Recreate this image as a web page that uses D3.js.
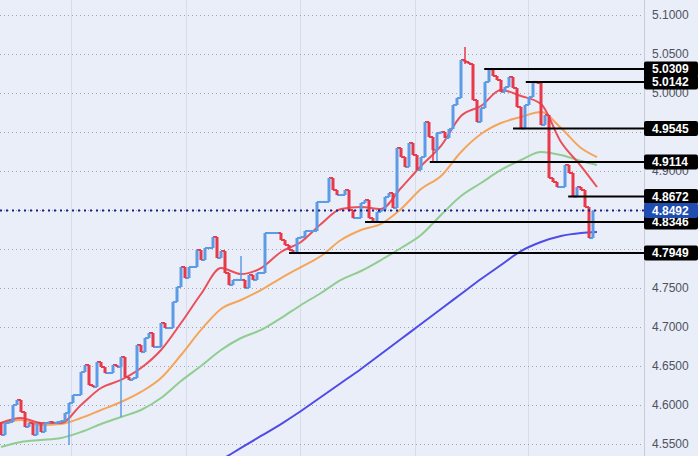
<!DOCTYPE html>
<html><head><meta charset="utf-8">
<script src="https://cdn.jsdelivr.net/npm/d3@7"></script>
<style>html,body{margin:0;padding:0;background:#eaeef8;} svg{display:block;}</style>
</head><body><svg id="c" width="698" height="456"></svg>
<script>
// ---- data ----
const firstOpen = 4.5782;
const closes = [
4.5615,4.5769,4.5782,4.6000,4.6064,4.5910,4.5718,4.5769,4.5615,4.5769,
4.5654,4.5769,4.5782,4.5769,4.5782,4.5795,4.5897,4.6026,4.6128,4.6128,
4.6423,4.6513,4.6256,4.6231,4.6551,4.6487,4.6410,4.6410,4.6513,4.6487,
4.6615,4.6359,4.6321,4.6346,4.6769,4.6679,4.6859,4.6923,4.6744,4.6744,
4.7051,4.6987,4.6987,4.7321,4.7513,4.7769,4.7628,4.7769,4.7769,4.7987,
4.7859,4.8013,4.8013,4.8154,4.7885,4.7974,4.7692,4.7538,4.7603,4.7603,
4.7603,4.7500,4.7667,4.7603,4.7692,4.7692,4.8205,4.8205,4.8205,4.8205,
4.8115,4.8051,4.7987,4.7949,4.8141,4.8154,4.8231,4.8231,4.8231,4.8603,
4.8603,4.8603,4.8910,4.8756,4.8692,4.8692,4.8756,4.8500,4.8397,4.8397,
4.8590,4.8628,4.8397,4.8346,4.8474,4.8500,4.8667,4.8718,4.8526,4.9295,
4.9179,4.9051,4.9359,4.9205,4.9013,4.9179,4.9628,4.9436,4.9269,4.9487,
4.9500,4.9423,4.9538,4.9846,4.9936,5.0423,5.0397,5.0372,4.9910,4.9628,
4.9808,5.0141,5.0305,5.0218,5.0167,5.0013,5.0077,5.0205,5.0064,4.9821,
4.9545,4.9846,4.9949,5.0142,5.0128,4.9590,4.9718,4.8910,4.8859,4.8795,
4.8795,4.9077,4.8974,4.8672,4.8795,4.8756,4.8538,4.8141,4.8492
];
// [candle index, high, low]
const wicks = [[17,4.6026,4.5487],[30,4.6615,4.5846],[60,4.7910,4.7603],[108,4.9436,4.9115],[109,4.9487,4.9115],[116,5.0590,5.0372],[148,4.8492,4.8141]];

const maIndex = [0,5,10,15,20,25,30,35,40,45,50,55,60,65,70,75,80,85,90,95,100,105,110,115,120,125,130,135,140,145,149];
const maFast = [4.5769,4.5833,4.5769,4.5769,4.6000,4.6218,4.6321,4.6474,4.6705,4.7051,4.7423,4.7756,4.7679,4.7756,4.7962,4.8090,4.8321,4.8513,4.8538,4.8513,4.8782,4.9064,4.9321,4.9705,4.9833,5.0038,4.9962,4.9859,4.9372,4.9064,4.8795];
const maMid = [4.5769,4.5808,4.5744,4.5756,4.5833,4.5936,4.6038,4.6167,4.6346,4.6641,4.6962,4.7231,4.7346,4.7474,4.7628,4.7769,4.7910,4.8115,4.8244,4.8321,4.8513,4.8769,4.8936,4.9244,4.9474,4.9615,4.9692,4.9756,4.9551,4.9295,4.9179];
const maSlow = [4.5462,4.5526,4.5551,4.5577,4.5654,4.5756,4.5846,4.5936,4.6090,4.6308,4.6500,4.6705,4.6859,4.6962,4.7115,4.7282,4.7436,4.7603,4.7718,4.7859,4.8013,4.8179,4.8436,4.8679,4.8846,4.9013,4.9141,4.9244,4.9205,4.9128,4.9077];
const maLong = [null,null,null,null,null,null,null,null,null,null,null,4.5295,4.5449,4.5603,4.5756,4.5923,4.6103,4.6282,4.6462,4.6654,4.6846,4.7038,4.7231,4.7423,4.7615,4.7795,4.7974,4.8090,4.8167,4.8205,4.8218];

const yTicks = [5.10,5.05,5.00,4.95,4.90,4.85,4.80,4.75,4.70,4.65,4.60,4.55];
const levels = [5.0309,5.0142,4.9545,4.9114,4.8672,4.8346,4.7949];
const levelStart = [120.8,131.2,128,107.2,141.8,91,72];
const lastPrice = 4.8492;
const timeGrid = [17.5,46.2,74.8,103.5,131.8];

// ---- drawing ----
const W = 698, H = 456, plotR = 644;
const svg = d3.select('#c');
const x = d3.scaleLinear().domain([0, 148]).range([1, 593]);
const y = d3.scaleLinear().domain([4.55, 5.10]).range([444, 15]);
const BLUE = '#5c9ce6', RED = '#e8394a';
const FONT = '"Liberation Sans", Arial, sans-serif';

svg.append('rect').attr('width', W).attr('height', H).attr('fill', '#eaeef8');
svg.append('defs').append('clipPath').attr('id', 'plot')
  .append('rect').attr('x', 0).attr('y', 0).attr('width', plotR).attr('height', H);

const grid = svg.append('g');
grid.selectAll('line.v').data(timeGrid).join('line')
  .attr('x1', d => Math.round(x(d)) + 0.5).attr('x2', d => Math.round(x(d)) + 0.5)
  .attr('y1', 0).attr('y2', H).attr('stroke', '#d8dce8').attr('stroke-width', 1);
grid.selectAll('line.h').data(yTicks).join('line')
  .attr('x1', 0).attr('x2', plotR)
  .attr('y1', d => Math.round(y(d)) + 0.5).attr('y2', d => Math.round(y(d)) + 0.5)
  .attr('stroke', '#9ea4b6').attr('stroke-width', 1).attr('stroke-dasharray', '1,3');

const plot = svg.append('g').attr('clip-path', 'url(#plot)');

// moving averages
const maPts = arr => arr.map((v, k) => [maIndex[k], v]);
const line = d3.line().defined(d => d[1] != null).x(d => x(d[0])).y(d => y(d[1])).curve(d3.curveMonotoneX);
[[maSlow, '#8fcd91'], [maMid, '#f5a55a'], [maFast, '#ea4f5a'], [maLong, '#4f4be6']].forEach(([arr, col]) => {
  plot.append('path').attr('d', line(maPts(arr))).attr('fill', 'none')
    .attr('stroke', col).attr('stroke-width', 2).attr('stroke-linejoin', 'round');
});

// candles
const candles = closes.map((c, i) => {
  const o = i === 0 ? firstOpen : closes[i - 1];
  return { i, o, c, col: c >= o ? BLUE : RED };
});
const cg = plot.append('g');
cg.selectAll('line.conn').data(candles.filter(d => d.i > 0)).join('line')
  .attr('x1', d => x(d.i - 1)).attr('x2', d => x(d.i))
  .attr('y1', d => y(d.o)).attr('y2', d => y(d.o))
  .attr('stroke', d => d.col).attr('stroke-width', 2);
cg.selectAll('line.wick').data(wicks).join('line')
  .attr('x1', d => x(d[0])).attr('x2', d => x(d[0]))
  .attr('y1', d => y(d[1])).attr('y2', d => y(d[2]))
  .attr('stroke', d => candles[d[0]].col).attr('stroke-width', 1.5);
cg.selectAll('rect.body').data(candles).join('rect')
  .attr('x', d => x(d.i) - 1.5).attr('width', 3)
  .attr('y', d => { const a = y(d.o), b = y(d.c); return Math.abs(a - b) < 2 ? (a + b) / 2 - 1 : Math.min(a, b); })
  .attr('height', d => Math.max(2, Math.abs(y(d.o) - y(d.c))))
  .attr('fill', d => d.col);

// horizontal levels
plot.selectAll('line.lvl').data(levels).join('line')
  .attr('x1', (d, k) => x(levelStart[k])).attr('x2', plotR)
  .attr('y1', d => y(d)).attr('y2', d => y(d))
  .attr('stroke', '#000').attr('stroke-width', 2);

// last price dotted line
plot.append('line').attr('x1', 0).attr('x2', plotR)
  .attr('y1', y(lastPrice)).attr('y2', y(lastPrice))
  .attr('stroke', '#1b1f8a').attr('stroke-width', 2).attr('stroke-dasharray', '2,4');

// axis separator
svg.append('line').attr('x1', plotR + 0.5).attr('x2', plotR + 0.5).attr('y1', 0).attr('y2', H)
  .attr('stroke', '#c6cbd7').attr('stroke-width', 1);

// right axis: tick labels fully hidden behind a price label box are not drawn (as in the reference)
const boxVals = levels.concat([lastPrice]);
const shownTicks = yTicks.filter(t => !boxVals.some(v => Math.abs(y(t) - y(v)) < 6));
const axis = d3.axisRight(y).tickValues(shownTicks).tickFormat(d3.format('.4f')).tickSizeInner(0).tickSizeOuter(0).tickPadding(8);
const ag = svg.append('g').attr('transform', `translate(${plotR},0)`).call(axis);
ag.select('.domain').remove();
ag.selectAll('text').attr('font-family', FONT).attr('font-size', 12).attr('fill', '#4e5260');

// level labels
const lg = svg.append('g');
levels.forEach(v => {
  lg.append('rect').attr('x', plotR).attr('y', y(v) - 7.5).attr('width', W - plotR).attr('height', 15)
    .attr('rx', 2).attr('fill', '#000');
  lg.append('text').attr('x', 652).attr('y', y(v)).attr('dy', '0.36em')
    .attr('font-family', FONT).attr('font-size', 12).attr('font-weight', 'bold').attr('fill', '#fff')
    .text(d3.format('.4f')(v));
});
lg.append('rect').attr('x', plotR).attr('y', y(lastPrice) - 7.5).attr('width', W - plotR).attr('height', 15)
  .attr('rx', 2).attr('fill', '#1f4db0');
lg.append('text').attr('x', 652).attr('y', y(lastPrice)).attr('dy', '0.36em')
  .attr('font-family', FONT).attr('font-size', 12).attr('font-weight', 'bold').attr('fill', '#fff')
  .text(d3.format('.4f')(lastPrice));
</script></body></html>
